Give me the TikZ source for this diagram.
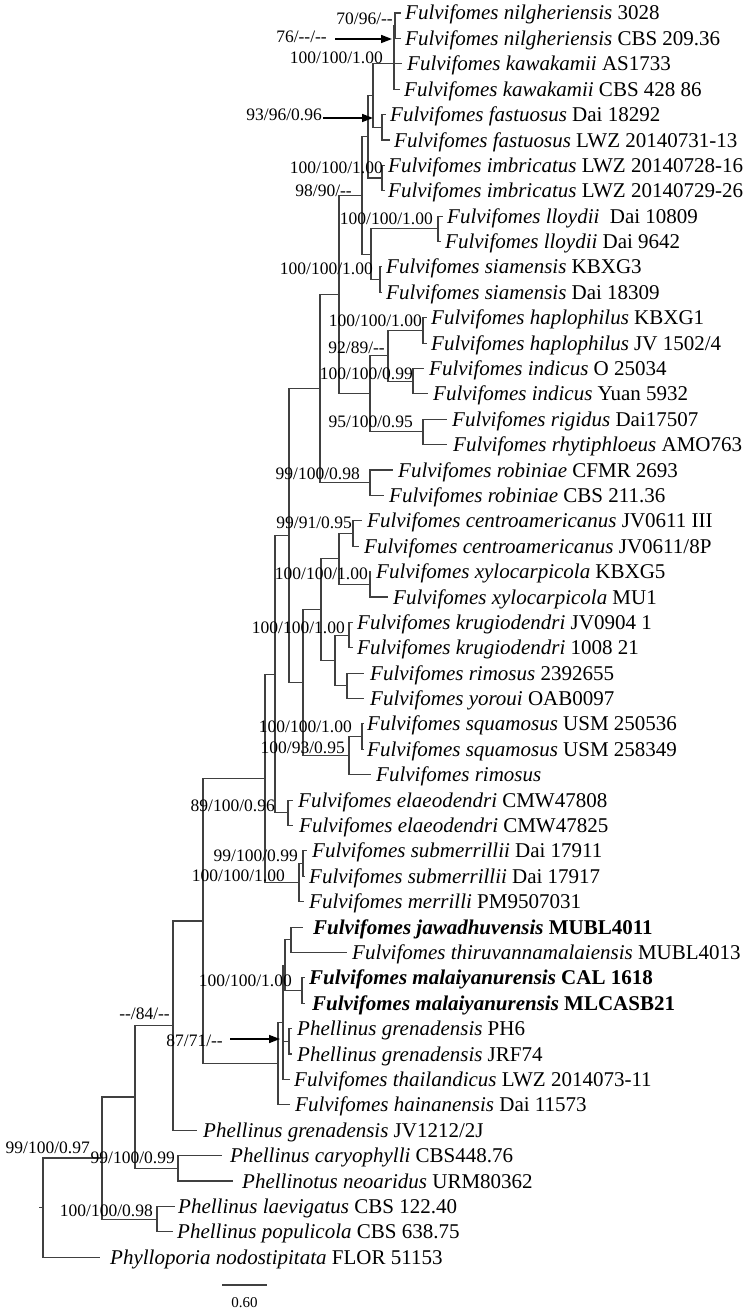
\documentclass[tikz,border=0pt]{standalone}
\usepackage{fontspec}
\setmainfont{Liberation Serif}
\usetikzlibrary{arrows.meta}
\newcommand{\dsh}{-\kern0pt-}
\newcommand{\spn}[1]{\textit{#1}}
\begin{document}
\begin{tikzpicture}[x=1pt,y=-1pt,
  branch/.style={draw=black!75,line width=1.1pt},
  taxon/.style={anchor=base west,inner sep=0pt,font=\fontsize{21}{25}\selectfont},
  sup/.style={anchor=base east,inner sep=0pt,font=\fontsize{17.5}{20}\selectfont},
  suparrow/.style={draw=black,line width=1.6pt,-{Triangle[length=11pt,width=8pt]}},
  scalelab/.style={anchor=base,inner sep=0pt,font=\fontsize{15}{18}\selectfont}]
\fill[white] (0,0) rectangle (749,1311);
\path[use as bounding box] (0,0) rectangle (749,1311);
% internal nodes
\coordinate (root) at (43,1207.6);
\coordinate (stub) at (39,1207.6);
\coordinate (n102) at (102,1158);
\coordinate (n135) at (135,1097);
\coordinate (nlp) at (157,1219.1);
\coordinate (n173) at (173,1025.6);
\coordinate (ncn) at (178,1168.3);
\coordinate (n203) at (203,921);
\coordinate (n265) at (265,778.5);
\coordinate (n278) at (278,1063.6);
\coordinate (n283) at (283,1022.3);
\coordinate (n285) at (285,965.2);
\coordinate (njt) at (291,939.8);
\coordinate (nma) at (302,990.6);
\coordinate (ngr) at (289,1041.3);
\coordinate (n275) at (275,674.3);
\coordinate (n299) at (299,882.7);
\coordinate (nsm) at (303,863.6);
\coordinate (nel) at (288,812.8);
\coordinate (n289) at (289,535.7);
\coordinate (n303) at (303,682.7);
\coordinate (n320) at (320,388.7);
\coordinate (n321) at (321,609.7);
\coordinate (n349) at (349,755.7);
\coordinate (nsq) at (362,736.6);
\coordinate (nca) at (339,558.9);
\coordinate (n335) at (335,660.5);
\coordinate (nce) at (353,533.5);
\coordinate (nxy) at (370,584.3);
\coordinate (nkr) at (349,635.1);
\coordinate (nry) at (347,685.9);
\coordinate (n339) at (339,294.7);
\coordinate (nro) at (370,482.7);
\coordinate (n362) at (362,195.5);
\coordinate (n370) at (370,393.9);
\coordinate (n368) at (368,136.8);
\coordinate (n371) at (371,254.2);
\coordinate (n373) at (373,95.6);
\coordinate (nim) at (382,178);
\coordinate (nkw) at (394,63.8);
\coordinate (nfa) at (382,127.3);
\coordinate (nnil) at (395,25.7);
\coordinate (nll) at (438,228.8);
\coordinate (nsi) at (380,279.6);
\coordinate (n388) at (388,355.8);
\coordinate (nri) at (423,431.9);
\coordinate (nha) at (423,330.4);
\coordinate (nin) at (413,381.2);
% leaf tips
\coordinate (L1) at (401,13.0);
\coordinate (L2) at (401,38.4);
\coordinate (L3) at (402,63.8);
\coordinate (L4) at (400,89.2);
\coordinate (L5) at (386,114.6);
\coordinate (L6) at (390,140.0);
\coordinate (L7) at (385,165.3);
\coordinate (L8) at (385,190.7);
\coordinate (L9) at (443,216.1);
\coordinate (L10) at (441,241.5);
\coordinate (L11) at (382,266.9);
\coordinate (L12) at (382,292.3);
\coordinate (L13) at (427,317.7);
\coordinate (L14) at (427,343.1);
\coordinate (L15) at (424,368.5);
\coordinate (L16) at (428,393.9);
\coordinate (L17) at (447,419.2);
\coordinate (L18) at (447,444.6);
\coordinate (L19) at (393,470.0);
\coordinate (L20) at (384,495.4);
\coordinate (L21) at (362,520.8);
\coordinate (L22) at (359,546.2);
\coordinate (L23) at (371,571.6);
\coordinate (L24) at (388,597.0);
\coordinate (L25) at (353,622.4);
\coordinate (L26) at (353,647.8);
\coordinate (L27) at (364,673.2);
\coordinate (L28) at (364,698.5);
\coordinate (L29) at (364,723.9);
\coordinate (L30) at (364,749.3);
\coordinate (L31) at (371,774.7);
\coordinate (L32) at (293,800.1);
\coordinate (L33) at (293,825.5);
\coordinate (L34) at (307,850.9);
\coordinate (L35) at (305,876.3);
\coordinate (L36) at (304,901.7);
\coordinate (L37) at (303,927.1);
\coordinate (L38) at (347,952.5);
\coordinate (L39) at (305,977.9);
\coordinate (L40) at (305,1003.3);
\coordinate (L41) at (292,1028.6);
\coordinate (L42) at (292,1054.0);
\coordinate (L43) at (290,1079.4);
\coordinate (L44) at (290,1104.8);
\coordinate (L45) at (197,1130.2);
\coordinate (L46) at (222,1155.6);
\coordinate (L47) at (233,1181.0);
\coordinate (L48) at (175,1206.4);
\coordinate (L49) at (173,1231.8);
\coordinate (L50) at (100,1257.2);
% branches
\draw[branch] (stub) -- (root);
\draw[branch] (root) |- (n102) (root) |- (L50)
  (n102) |- (n135) (n102) |- (nlp)
  (nlp) |- (L48) (nlp) |- (L49)
  (n135) |- (n173) (n135) |- (ncn)
  (ncn) |- (L46) (ncn) |- (L47)
  (n173) |- (n203) (n173) |- (L45)
  (n203) |- (n265) (n203) |- (n278)
  (n278) |- (n283) (n278) |- (L44)
  (n283) |- (n285) (n283) |- (ngr) (n283) |- (L43)
  (ngr) |- (L41) (ngr) |- (L42)
  (n285) |- (njt) (n285) |- (nma)
  (njt) |- (L37) (njt) |- (L38)
  (nma) |- (L39) (nma) |- (L40)
  (n265) |- (n275) (n265) |- (n299)
  (n299) |- (nsm) (n299) |- (L36)
  (nsm) |- (L34) (nsm) |- (L35)
  (n275) |- (n289) (n275) |- (nel)
  (nel) |- (L32) (nel) |- (L33)
  (n289) |- (n320) (n289) |- (n303)
  (n303) |- (n321) (n303) |- (n349)
  (n349) |- (nsq) (n349) |- (L31)
  (nsq) |- (L29) (nsq) |- (L30)
  (n321) |- (nca) (n321) |- (n335)
  (nca) |- (nce) (nca) |- (nxy)
  (nce) |- (L21) (nce) |- (L22)
  (nxy) |- (L23) (nxy) |- (L24)
  (n335) |- (nkr) (n335) |- (nry)
  (nkr) |- (L25) (nkr) |- (L26)
  (nry) |- (L27) (nry) |- (L28)
  (n320) |- (n339) (n320) |- (nro)
  (nro) |- (L19) (nro) |- (L20)
  (n339) |- (n362) (n339) |- (n370)
  (n370) |- (n388) (n370) |- (nri)
  (nri) |- (L17) (nri) |- (L18)
  (n388) |- (nha) (n388) |- (nin)
  (nha) |- (L13) (nha) |- (L14)
  (nin) |- (L15) (nin) |- (L16)
  (n362) |- (n368) (n362) |- (n371)
  (n371) |- (nll) (n371) |- (nsi)
  (nll) |- (L9) (nll) |- (L10)
  (nsi) |- (L11) (nsi) |- (L12)
  (n368) |- (n373) (n368) |- (nim)
  (nim) |- (L7) (nim) |- (L8)
  (n373) |- (nkw) (n373) |- (nfa)
  (nfa) |- (L5) (nfa) |- (L6)
  (nkw) |- (nnil) (nkw) |- (L3) (nkw) |- (L4)
  (nnil) |- (L1) (nnil) |- (L2);
% taxon labels
\node[taxon] (T1) at (405,20.0) {\spn{Fulvifomes nilgheriensis} 3028};
\node[taxon] (T2) at (405,45.4) {\spn{Fulvifomes nilgheriensis} CBS 209.36};
\node[taxon] (T3) at (407,70.8) {\spn{Fulvifomes kawakamii} AS1733};
\node[taxon] (T4) at (404,96.2) {\spn{Fulvifomes kawakamii} CBS 428 86};
\node[taxon] (T5) at (390,121.6) {\spn{Fulvifomes fastuosus} Dai 18292};
\node[taxon] (T6) at (394,147.0) {\spn{Fulvifomes fastuosus} LWZ 20140731-13};
\node[taxon] (T7) at (388,172.3) {\spn{Fulvifomes imbricatus} LWZ 20140728-16};
\node[taxon] (T8) at (388,197.7) {\spn{Fulvifomes imbricatus} LWZ 20140729-26};
\node[taxon] (T9) at (447,223.1) {\spn{Fulvifomes lloydii}\ \ Dai 10809};
\node[taxon] (T10) at (445,248.5) {\spn{Fulvifomes lloydii} Dai 9642};
\node[taxon] (T11) at (386,273.9) {\spn{Fulvifomes siamensis} KBXG3};
\node[taxon] (T12) at (386,299.3) {\spn{Fulvifomes siamensis} Dai 18309};
\node[taxon] (T13) at (431,324.7) {\spn{Fulvifomes haplophilus} KBXG1};
\node[taxon] (T14) at (431,350.1) {\spn{Fulvifomes haplophilus} JV 1502/4};
\node[taxon] (T15) at (429,375.5) {\spn{Fulvifomes indicus} O 25034};
\node[taxon] (T16) at (433,400.9) {\spn{Fulvifomes indicus} Yuan 5932};
\node[taxon] (T17) at (452,426.2) {\spn{Fulvifomes rigidus} Dai17507};
\node[taxon] (T18) at (453,451.6) {\spn{Fulvifomes rhytiphloeus} AMO763};
\node[taxon] (T19) at (398,477.0) {\spn{Fulvifomes robiniae} CFMR 2693};
\node[taxon] (T20) at (389,502.4) {\spn{Fulvifomes robiniae} CBS 211.36};
\node[taxon] (T21) at (367,527.8) {\spn{Fulvifomes centroamericanus} JV0611 III};
\node[taxon] (T22) at (364,553.2) {\spn{Fulvifomes centroamericanus} JV0611/8P};
\node[taxon] (T23) at (376,578.6) {\spn{Fulvifomes xylocarpicola} KBXG5};
\node[taxon] (T24) at (393,604.0) {\spn{Fulvifomes xylocarpicola} MU1};
\node[taxon] (T25) at (357,629.4) {\spn{Fulvifomes krugiodendri} JV0904 1};
\node[taxon] (T26) at (357,654.8) {\spn{Fulvifomes krugiodendri} 1008 21};
\node[taxon] (T27) at (370,680.2) {\spn{Fulvifomes rimosus} 2392655};
\node[taxon] (T28) at (370,705.5) {\spn{Fulvifomes yoroui} OAB0097};
\node[taxon] (T29) at (367,730.9) {\spn{Fulvifomes squamosus} USM 250536};
\node[taxon] (T30) at (367,756.3) {\spn{Fulvifomes squamosus} USM 258349};
\node[taxon] (T31) at (376,781.7) {\spn{Fulvifomes rimosus}};
\node[taxon] (T32) at (298,807.1) {\spn{Fulvifomes elaeodendri} CMW47808};
\node[taxon] (T33) at (299,832.5) {\spn{Fulvifomes elaeodendri} CMW47825};
\node[taxon] (T34) at (312,857.9) {\spn{Fulvifomes submerrillii} Dai 17911};
\node[taxon] (T35) at (309,883.3) {\spn{Fulvifomes submerrillii} Dai 17917};
\node[taxon] (T36) at (309,908.7) {\spn{Fulvifomes merrilli} PM9507031};
\node[taxon] (T37) at (313,934.1) {\textbf{\spn{Fulvifomes jawadhuvensis} MUBL4011}};
\node[taxon] (T38) at (352,959.5) {\spn{Fulvifomes thiruvannamalaiensis} MUBL4013};
\node[taxon] (T39) at (309,984.9) {\textbf{\spn{Fulvifomes malaiyanurensis} CAL 1618}};
\node[taxon] (T40) at (312,1010.3) {\textbf{\spn{Fulvifomes malaiyanurensis} MLCASB21}};
\node[taxon] (T41) at (297,1035.6) {\spn{Phellinus grenadensis} PH6};
\node[taxon] (T42) at (297,1061.0) {\spn{Phellinus grenadensis} JRF74};
\node[taxon] (T43) at (294,1086.4) {\spn{Fulvifomes thailandicus} LWZ 2014073-11};
\node[taxon] (T44) at (295,1111.8) {\spn{Fulvifomes hainanensis} Dai 11573};
\node[taxon] (T45) at (203,1137.2) {\spn{Phellinus grenadensis} JV1212/2J};
\node[taxon] (T46) at (230,1162.6) {\spn{Phellinus caryophylli} CBS448.76};
\node[taxon] (T47) at (242,1188.0) {\spn{Phellinotus neoaridus} URM80362};
\node[taxon] (T48) at (178,1213.4) {\spn{Phellinus laevigatus} CBS 122.40};
\node[taxon] (T49) at (177,1238.8) {\spn{Phellinus populicola} CBS 638.75};
\node[taxon] (T50) at (110,1264.2) {\spn{Phylloporia nodostipitata} FLOR 51153};
% support values
\node[sup] (s1) at (393,24.3) {70/96/\dsh};
\node[sup] (s2) at (327,43) {76/\dsh/\dsh};
\node[sup] (s3) at (383,64) {100/100/1.00};
\node[sup] (s4) at (322,121) {93/96/0.96};
\node[sup] (s5) at (383,173) {100/100/1.00};
\node[sup] (s6) at (352,196) {98/90/\dsh};
\node[sup] (s7) at (433,224) {100/100/1.00};
\node[sup] (s8) at (373,274) {100/100/1.00};
\node[sup] (s9) at (422,326) {100/100/1.00};
\node[sup] (s10) at (385,353) {92/89/\dsh};
\node[sup] (s11) at (413,379) {100/100/0.99};
\node[sup] (s12) at (413,427) {95/100/0.95};
\node[sup] (s13) at (360,479) {99/100/0.98};
\node[sup] (s14) at (352,528) {99/91/0.95};
\node[sup] (s15) at (368,579) {100/100/1.00};
\node[sup] (s16) at (345,633) {100/100/1.00};
\node[sup] (s17) at (352,732) {100/100/1.00};
\node[sup] (s18) at (345,753) {100/93/0.95};
\node[sup] (s19) at (275,811) {89/100/0.96};
\node[sup] (s20) at (298,861) {99/100/0.99};
\node[sup] (s21) at (285,881) {100/100/1.00};
\node[sup] (s22) at (292,986) {100/100/1.00};
\node[sup] (s23) at (170,1019) {\dsh/84/\dsh};
\node[sup] (s24) at (223,1046) {87/71/\dsh};
\node[sup] (s25) at (90,1153) {99/100/0.97};
\node[sup] (s26) at (175,1163) {99/100/0.99};
\node[sup] (s27) at (153,1216) {100/100/0.98};
% arrows
\coordinate (a2s) at (335,39); \coordinate (a2e) at (392,39);
\coordinate (a4s) at (323,118); \coordinate (a4e) at (373,118);
\coordinate (a24s) at (230,1039); \coordinate (a24e) at (280,1039);
\draw[suparrow] (a2s) -- (a2e);
\draw[suparrow] (a4s) -- (a4e);
\draw[suparrow] (a24s) -- (a24e);
% scale bar
\coordinate (sb1) at (222,1285); \coordinate (sb2) at (267,1285);
\draw[branch] (sb1) -- (sb2);
\node[scalelab] (sbl) at (244.5,1307) {0.60};
\end{tikzpicture}
\end{document}
